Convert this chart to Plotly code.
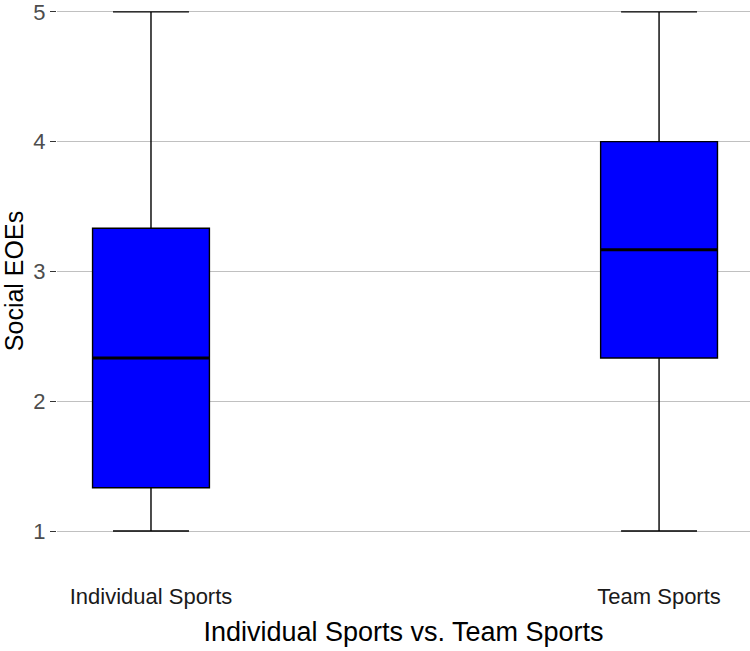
import plotly.graph_objects as go

categories = ["Individual Sports", "Team Sports"]
q_min = [1.0, 1.0]
q1 = [1.333, 2.333]
median = [2.333, 3.167]
q3 = [3.333, 4.0]
q_max = [5.0, 5.0]
y_ticks = [1, 2, 3, 4, 5]

box_width = 0.23

fig = go.Figure()
fig.add_trace(go.Box(
    x=categories,
    q1=q1, median=median, q3=q3,
    lowerfence=q_min, upperfence=q_max,
    width=box_width,
    whiskerwidth=0.65,
    fillcolor="#0000FF",
    line=dict(color="#000000", width=1.4),
    boxpoints=False,
    showlegend=False,
    hoverinfo="skip",
))

# thicker median lines (ggplot style)
for i, m in enumerate(median):
    fig.add_shape(type="line", xref="x", yref="y",
                  x0=i - box_width / 2, x1=i + box_width / 2, y0=m, y1=m,
                  line=dict(color="#000000", width=3), layer="above")

# white separator between categories (as in reference)
fig.add_shape(type="line", xref="x", yref="paper", x0=0.5, x1=0.5, y0=0, y1=1,
              line=dict(color="white", width=12), layer="below")

fig.update_layout(
    width=750, height=651,
    margin=dict(l=57, r=0, t=0, b=94),
    plot_bgcolor="white", paper_bgcolor="white",
    font=dict(family="Liberation Sans, Arial, sans-serif", color="#000000"),
    xaxis=dict(
        type="category",
        range=[-0.185, 1.179],
        showgrid=False, zeroline=False, showline=False,
        ticks="", ticklabelstandoff=24,
        tickfont=dict(size=22, color="#1a1a1a"),
        title=dict(text="Individual Sports vs. Team Sports", font=dict(size=27, color="#000000"), standoff=14),
    ),
    yaxis=dict(
        range=[0.8, 5.053],
        tickvals=y_ticks,
        showgrid=True, gridcolor="#c0c0c0", gridwidth=1.3,
        zeroline=False, showline=False,
        ticks="outside", ticklen=6, tickcolor="#333333", tickwidth=1.3,
        ticklabeloverflow="allow",
        tickfont=dict(size=22, color="#4d4d4d"),
        title=dict(text="Social EOEs", font=dict(size=25, color="#000000"), standoff=9),
    ),
)

fig.write_html("out.html", config={"displayModeBar": False},
               post_script="document.body.style.margin='0';")
